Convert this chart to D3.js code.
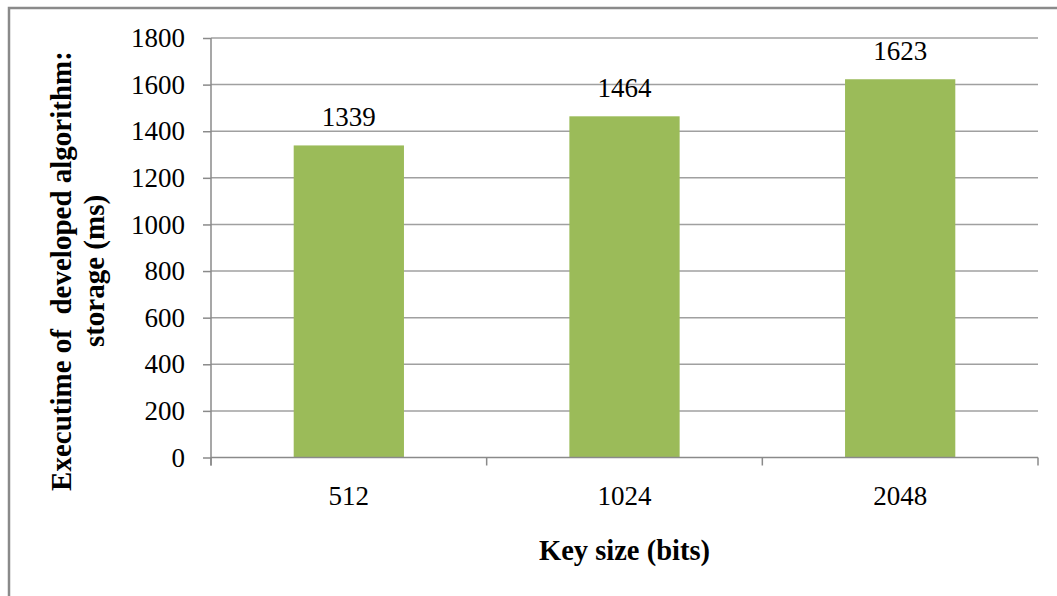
<!DOCTYPE html>
<html>
<head>
<meta charset="utf-8">
<script src="https://cdn.jsdelivr.net/npm/d3@7"></script>
<style>
  body { margin: 0; background: #fff; }
  text { font-family: "Liberation Serif", "Times New Roman", serif; fill: #000; }
</style>
</head>
<body>
<svg class="chart"></svg>
<script>
var keySizes = ["512", "1024", "2048"];
var execTimes = [1339, 1464, 1623];
var yTicks = [0, 200, 400, 600, 800, 1000, 1200, 1400, 1600, 1800];

var chartWidth = 1057,
    chartHeight = 596,
    plotLeft = 211,
    plotRight = 1038,
    plotTop = 38,
    plotBottom = 457.5;

var svg = d3.select('.chart')
    .attr("width", chartWidth)
    .attr("height", chartHeight);

// outer frame (right and bottom sides run off the picture)
svg.append("rect")
    .attr("x", 9)
    .attr("y", 8)
    .attr("width", 1070)
    .attr("height", 620)
    .attr("fill", "none")
    .attr("stroke", "#8a8a8a")
    .attr("stroke-width", 2.5);

var x = d3.scaleBand()
    .domain(keySizes)
    .range([plotLeft, plotRight])
    .paddingInner(0.6)
    .paddingOuter(0.3);

var y = d3.scaleLinear()
    .domain([0, 1800])
    .range([plotBottom, plotTop]);

// gridlines
svg.append("g")
    .selectAll("line")
    .data(yTicks.filter(function (d) { return d > 0; }))
    .enter()
    .append("line")
    .attr("x1", plotLeft)
    .attr("x2", plotRight)
    .attr("y1", function (d) { return y(d); })
    .attr("y2", function (d) { return y(d); })
    .attr("stroke", "#a0a0a0")
    .attr("stroke-width", 1.5);

// bars
svg.append("g")
    .selectAll("rect")
    .data(execTimes)
    .enter()
    .append("rect")
    .attr("x", function (d, i) { return x(keySizes[i]); })
    .attr("y", function (d) { return y(d); })
    .attr("width", x.bandwidth())
    .attr("height", function (d) { return y(0) - y(d); })
    .attr("fill", "#9bbb59");

// value labels
svg.append("g")
    .selectAll("text")
    .data(execTimes)
    .enter()
    .append("text")
    .text(function (d) { return d; })
    .attr("x", function (d, i) { return x(keySizes[i]) + x.bandwidth() / 2; })
    .attr("y", function (d) { return y(d) - 19; })
    .attr("text-anchor", "middle")
    .attr("font-size", 27);

// y axis
var yAxis = svg.append("g")
    .attr("transform", "translate(" + plotLeft + ",0)")
    .call(d3.axisLeft(y).tickValues(yTicks).tickFormat(d3.format("d")).tickSize(8).tickPadding(18));
yAxis.select(".domain").remove();
yAxis.selectAll(".tick line").attr("stroke", "#8a8a8a").attr("stroke-width", 1.5);
yAxis.selectAll("text").attr("font-size", 27).attr("font-family", null);

// x axis
var xAxis = svg.append("g")
    .attr("transform", "translate(0," + plotBottom + ")")
    .call(d3.axisBottom(x).tickSize(0).tickPadding(28));
xAxis.select(".domain").remove();
xAxis.selectAll("text").attr("font-size", 27).attr("font-family", null);

var gap = (x.step() - x.bandwidth()) / 2,
    bounds = keySizes.map(function (k) { return x(k) - gap; }).concat([plotRight]);

svg.append("line")
    .attr("x1", plotLeft).attr("x2", plotRight)
    .attr("y1", plotBottom).attr("y2", plotBottom)
    .attr("stroke", "#8a8a8a").attr("stroke-width", 1.5);
svg.append("line")
    .attr("x1", plotLeft).attr("x2", plotLeft)
    .attr("y1", plotTop).attr("y2", plotBottom + 8)
    .attr("stroke", "#8a8a8a").attr("stroke-width", 1.5);
svg.append("g")
    .selectAll("line")
    .data(bounds)
    .enter()
    .append("line")
    .attr("x1", function (d) { return d; })
    .attr("x2", function (d) { return d; })
    .attr("y1", plotBottom)
    .attr("y2", plotBottom + 8)
    .attr("stroke", "#8a8a8a")
    .attr("stroke-width", 1.5);

// axis titles
svg.append("text")
    .text("Key size (bits)")
    .attr("x", (plotLeft + plotRight) / 2)
    .attr("y", 560)
    .attr("text-anchor", "middle")
    .attr("font-size", 28.5)
    .attr("font-weight", "bold");

var yTitle = svg.append("text")
    .attr("transform", "translate(0,271) rotate(-90)")
    .attr("text-anchor", "middle")
    .attr("font-size", 29)
    .attr("font-weight", "bold");
yTitle.append("tspan").attr("x", 0).attr("y", 71).style("white-space", "pre").text("Executime of  developed algorithm:");
yTitle.append("tspan").attr("x", 0).attr("y", 104).text("storage (ms)");
</script>
</body>
</html>
